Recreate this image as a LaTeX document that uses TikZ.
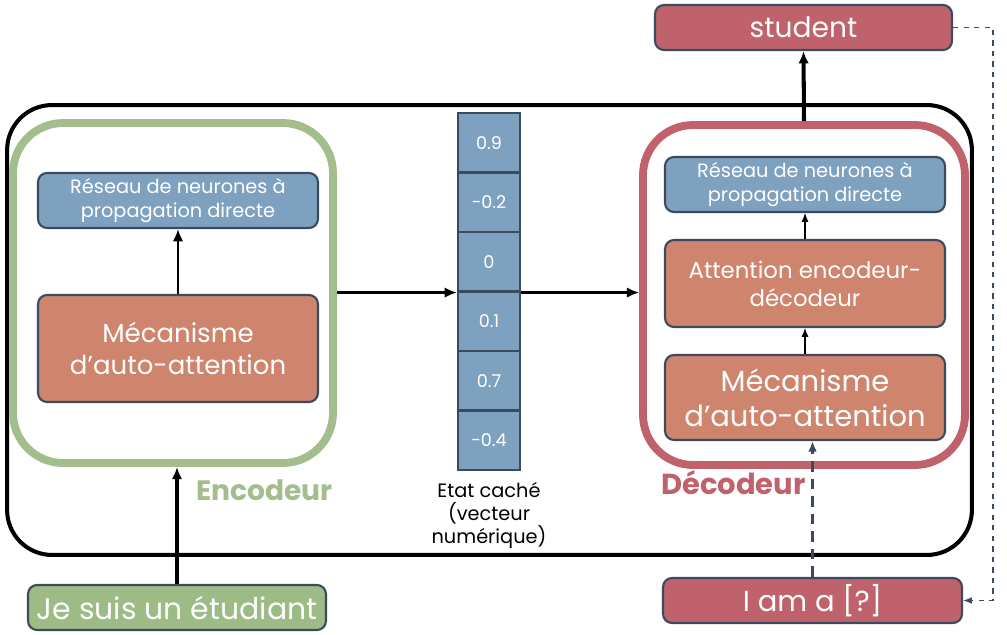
\documentclass[tikz,border=0pt]{standalone}
\usepackage{fontspec}
\setmainfont{Poppins}
\usepackage{tikz}
\usetikzlibrary{calc,arrows,arrows.meta,positioning}
\definecolor{rose}{HTML}{C0626B}
\definecolor{sauge}{HTML}{A3BE8C}
\definecolor{sauged}{HTML}{9CBB85}
\definecolor{bleu}{HTML}{7FA1C0}
\definecolor{brique}{HTML}{CF846E}
\definecolor{ardoise}{HTML}{3A4B5E}
\tikzset{>=latex}
\tikzset{
  bloc/.style={draw=ardoise, line width=1.2pt, rounded corners=0.18cm, text=white, align=center, inner sep=0pt},
  ffn/.style={bloc, fill=bleu, minimum width=5.6cm, minimum height=1.1cm, font=\fontsize{11}{13.6}\selectfont},
  meca/.style={bloc, fill=brique, minimum width=5.6cm},
  mot/.style={bloc, fill=rose, minimum height=0.9cm, font=\fontsize{16.5}{18}\selectfont},
  cell/.style={draw=ardoise, line width=1.2pt, fill=bleu, text=white, minimum width=1.24cm, minimum height=1.19cm, inner sep=0pt, font=\fontsize{10}{11}\selectfont},
  fleche/.style={-{Latex[length=7pt,width=6pt]}, line width=1.6pt},
}
\begin{document}
\begin{tikzpicture}[x=0.02cm, y=-0.02cm]
\useasboundingbox (0,0) rectangle (1007,635);

% blocs principaux
\node[draw, line width=2.3pt, rounded corners=0.9cm, minimum width=19.3cm, minimum height=9cm] (outer) at (489.5,330) {};
\node[draw=sauge, line width=4.5pt, rounded corners=1cm, minimum width=6.4cm, minimum height=6.8cm] (enc) at (173,293) {};
\node[draw=rose, line width=4.5pt, rounded corners=1cm, minimum width=6.44cm, minimum height=6.8cm] (dec) at (804,295) {};

% encodeur
\node[ffn] (ffnL) at (178,200.5) {R\'eseau de neurones \`a\\propagation directe};
\node[meca, minimum height=2.14cm, font=\fontsize{14.8}{18}\selectfont] (mecaL) at (178,348.5) {M\'ecanisme\\d'auto-attention};
\draw[fleche] (mecaL) -- (ffnL);
\node[anchor=west, text=sauge, font=\bfseries\fontsize{16}{18}\selectfont] (encL) at (190,490) {Encodeur};

% decodeur
\node[ffn] (ffnR) at (805,184.5) {R\'eseau de neurones \`a\\propagation directe};
\node[meca, minimum height=1.74cm, font=\fontsize{13}{16}\selectfont] (attR) at (805,283.5) {Attention encodeur-\\d\'ecodeur};
\node[meca, minimum height=1.7cm, font=\fontsize{16.5}{20}\selectfont] (mecaR) at (805,397.5) {M\'ecanisme\\d'auto-attention};
\draw[-{Latex[length=5pt,width=4pt]}, line width=0.6pt] (mecaR) -- (attR);
\draw[-{Latex[length=5pt,width=4pt]}, line width=0.6pt] (attR) -- (ffnR);
\node[anchor=west, text=rose, font=\bfseries\fontsize{16.5}{18}\selectfont] (decL) at (655,483) {D\'ecodeur};

% etat cache
\foreach \v [count=\i] in {0.9,-0.2,0,0.1,0.7,-0.4}
  \node[cell] (c\i) at (489,{113+59.5*(\i-0.5)}) {\v};
\node[anchor=north, align=center, font=\fontsize{11}{13}\selectfont] (etat) at (489,476) {Etat cach\'e\\(vecteur\\num\'erique)};
\draw[fleche] (enc.east |- c3.south west) -- (c3.south west);
\draw[fleche] (c3.south east) -- (c3.south east -| dec.west);

% entrees / sorties
\node[mot, fill=sauged, minimum width=5.96cm, font=\fontsize{17}{18}\selectfont] (input) at (177,607.5) {Je suis un \'etudiant};
\node[mot, minimum width=5.94cm, font=\fontsize{16}{18}\selectfont] (student) at (803.5,27.5) {student};
\node[mot, minimum width=5.98cm] (iam) at (812.5,600.5) {I am a [?]};
\draw[fleche, line width=2.3pt] (input.north) -- (input.north |- enc.south);
\draw[fleche, line width=2.3pt] (dec.north) -- (student.south);
\draw[-{Latex[length=6pt,width=5pt]}, ardoise, line width=1.6pt, dash pattern=on 6pt off 4pt] (iam.north) -- (iam.north |- mecaR.south);
\coordinate (retour) at (993,27.5);
\draw[-{Latex[length=5pt]}, ardoise, line width=0.6pt, dashed] (student.east) -- (retour) |- (iam.east);
\end{tikzpicture}
\end{document}
